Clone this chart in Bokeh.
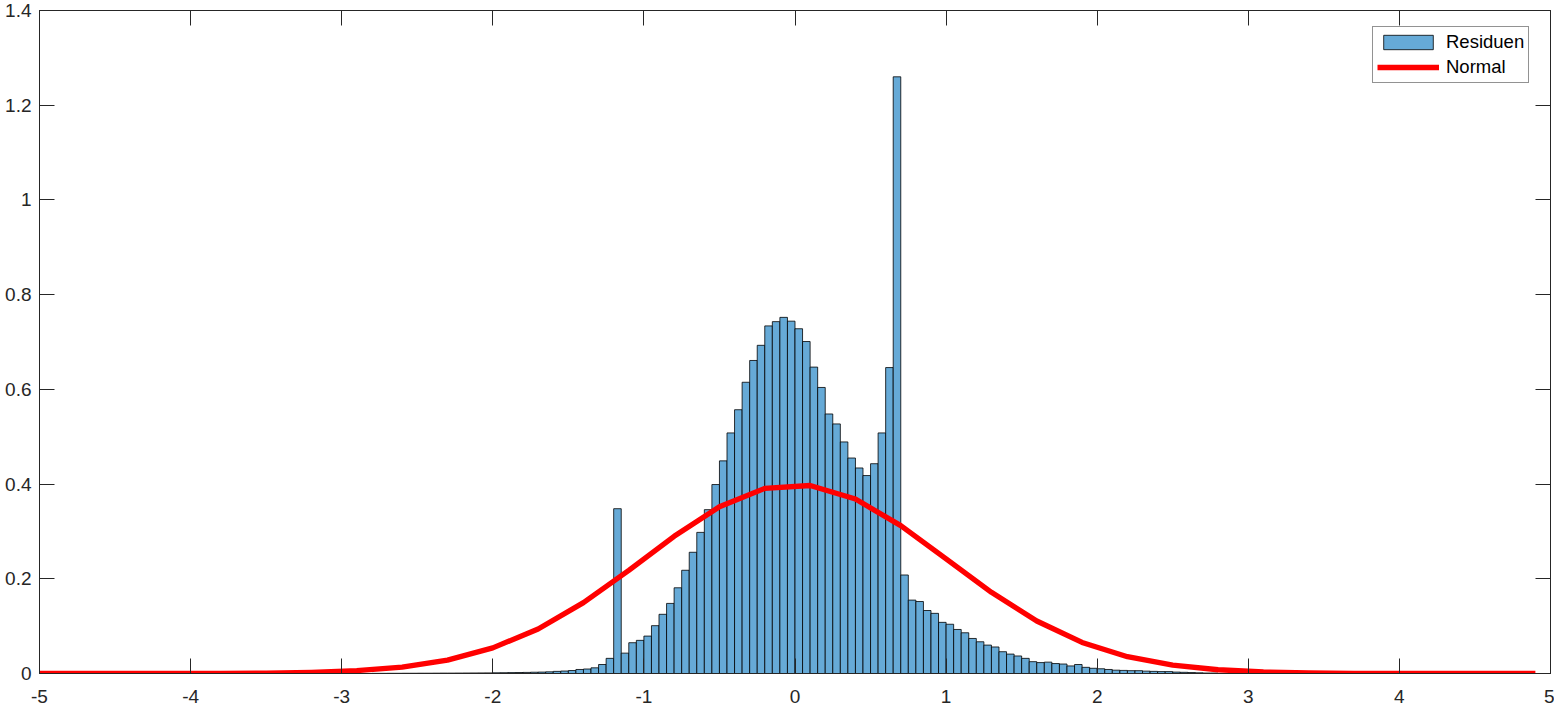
import numpy as np
from bokeh.plotting import figure
from bokeh.models import Range1d, LinearAxis, FixedTicker, Legend, LegendItem
from bokeh.embed import file_html
from bokeh.resources import INLINE

# ---------------- data ----------------
bin_first_left = -2.80
bin_width = 0.05
residuen_density = [
    # -2.80 .. -2.05
    0.0003, 0.0003, 0.0004, 0.0004, 0.0005, 0.0005, 0.0006, 0.0006,
    0.0007, 0.0008, 0.0008, 0.0009, 0.0010, 0.0011, 0.0012, 0.0013,
    # -2.00 .. -1.25
    0.0015, 0.0017, 0.0019, 0.0021, 0.0023, 0.0027, 0.0030, 0.0035,
    0.0045, 0.0052, 0.0063, 0.0085, 0.0095, 0.0120, 0.0190, 0.0320,
    # -1.20 .. 0.80
    0.348, 0.043, 0.065, 0.070, 0.079, 0.101, 0.125, 0.148, 0.181, 0.218,
    0.256, 0.298, 0.346, 0.399, 0.449, 0.508, 0.557, 0.615, 0.661, 0.693,
    0.734, 0.743, 0.752, 0.744, 0.728, 0.701, 0.647, 0.604, 0.548, 0.527,
    0.489, 0.455, 0.434, 0.418, 0.443, 0.508, 0.646, 1.260, 0.208, 0.155,
    0.152,
    # 0.85 .. 2.75
    0.133, 0.127, 0.108, 0.104, 0.093, 0.086, 0.074, 0.067, 0.060, 0.056,
    0.046, 0.041, 0.037, 0.032, 0.025, 0.023, 0.024, 0.021, 0.020, 0.016,
    0.019, 0.013, 0.011, 0.010, 0.0085, 0.0070, 0.0065, 0.0060, 0.0060,
    0.0050, 0.0045, 0.0040, 0.0040, 0.0030, 0.0025, 0.0020, 0.0015, 0.0010,
    0.0010,
]

normal_x = [-5.0, -4.7, -4.4, -4.1, -3.8, -3.5, -3.2, -2.9, -2.6, -2.3,
            -2.0, -1.7, -1.4, -1.1, -0.8, -0.5, -0.2, 0.1, 0.4, 0.7,
            1.0, 1.3, 1.6, 1.9, 2.2, 2.5, 2.8, 3.1, 3.4, 3.7,
            4.0, 4.3, 4.6, 4.9]
normal_y = [0.0000, 0.0000, 0.0000, 0.0001, 0.0003, 0.0009, 0.0024, 0.0060, 0.0136, 0.0283,
            0.0540, 0.0940, 0.1497, 0.2179, 0.2897, 0.3521, 0.3910, 0.3970, 0.3683, 0.3123,
            0.2420, 0.1714, 0.1109, 0.0656, 0.0355, 0.0175, 0.0079, 0.0033, 0.0012, 0.0004,
            0.0001, 0.0000, 0.0000, 0.0000]

x_ticks = [-5, -4, -3, -2, -1, 0, 1, 2, 3, 4, 5]
x_tick_labels = ["-5", "-4", "-3", "-2", "-1", "0", "1", "2", "3", "4", "5"]
y_ticks = [0, 0.2, 0.4, 0.6, 0.8, 1, 1.2, 1.4]
y_tick_labels = ["0", "0.2", "0.4", "0.6", "0.8", "1", "1.2", "1.4"]

# ---------------- figure ----------------
AX = "#262626"
FONT = "Liberation Sans"

n = len(residuen_density)
lefts = np.round(bin_first_left + bin_width * np.arange(n), 4)
rights = np.round(lefts + bin_width, 4)

p = figure(frame_width=1511, frame_height=663,
           x_range=Range1d(-5, 5), y_range=Range1d(0, 1.4),
           output_backend="svg", toolbar_location=None,
           min_border_left=39, min_border_right=4,
           min_border_top=10, min_border_bottom=20,
           background_fill_color="white", border_fill_color="white")
p.xgrid.visible = False
p.ygrid.visible = False
p.outline_line_color = AX
p.outline_line_width = 1

bars = p.quad(left=lefts, right=rights, top=residuen_density, bottom=0,
              fill_color="#66AAD7", line_color="#000000", line_width=0.8, line_alpha=1.0)
curve = p.line(normal_x, normal_y, line_color="#FF0000", line_width=5.3,
               line_join="round", line_cap="butt")

def style_axis(ax, ticks, labels, show_labels, standoff):
    ax.ticker = FixedTicker(ticks=ticks)
    ax.major_label_overrides = {t: l for t, l in zip(ticks, labels)}
    ax.major_tick_in = 15
    ax.major_tick_out = 0
    ax.minor_tick_in = 0
    ax.minor_tick_out = 0
    ax.axis_line_color = AX
    ax.major_tick_line_color = AX
    ax.major_label_text_color = AX
    ax.major_label_text_font = FONT
    ax.major_label_standoff = standoff
    if show_labels:
        ax.major_label_text_font_size = "19px"
    else:
        ax.major_label_text_font_size = "0px"
        ax.major_label_text_alpha = 0

style_axis(p.xaxis[0], x_ticks, x_tick_labels, True, 16)
style_axis(p.yaxis[0], y_ticks, y_tick_labels, True, 8)

top_axis = LinearAxis()
right_axis = LinearAxis()
style_axis(top_axis, x_ticks, x_tick_labels, False, 0)
style_axis(right_axis, y_ticks, y_tick_labels, False, 0)
p.add_layout(top_axis, "above")
p.add_layout(right_axis, "right")

legend = Legend(items=[LegendItem(label="Residuen", renderers=[bars]),
                       LegendItem(label="Normal", renderers=[curve])],
                location=(1333, 590), margin=0, padding=4, spacing=3,
                glyph_width=62, glyph_height=18, label_height=18,
                label_standoff=7, label_text_font=FONT,
                label_text_font_size="18.5px", label_text_color="#000000",
                border_line_color=AX, border_line_width=1,
                background_fill_color="white", background_fill_alpha=1)
p.add_layout(legend, "center")

open("out.html", "w").write(file_html(p, INLINE))
